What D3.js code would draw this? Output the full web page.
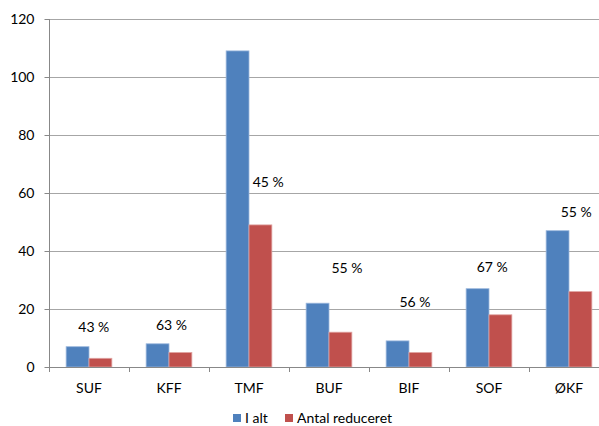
<!DOCTYPE html>
<html><head><meta charset="utf-8">
<script src="https://cdn.jsdelivr.net/npm/d3@7"></script>
<style>body{margin:0;background:#fff}svg{display:block}text{font-family:Lato,"Open Sans",sans-serif;fill:#000}</style>
</head><body>
<svg id="c" width="599" height="426"></svg>
<script>
const categories = ["SUF","KFF","TMF","BUF","BIF","SOF","ØKF"];
const iAlt = [7,8,109,22,9,27,47];
const antalReduceret = [3,5,49,12,5,18,26];
const pctLabels = ["43 %","63 %","45 %","55 %","56 %","67 %","55 %"];
const pctLabelValue = [13.8,14.5,63.8,34,22.4,34.5,53.4];
const pctLabelShift = [0.06,0.03,0.24,0.225,0.075,0.04,0.09];
const seriesNames = ["I alt","Antal reduceret"];
const yTicks = [0,20,40,60,80,100,120];
const colors = ["#4F81BD","#C0504D"];

const svg = d3.select("#c");
const x0 = 49, bandW = 80;
const x = d3.scaleBand().domain(categories).range([x0, x0 + bandW*categories.length]).paddingInner(0).paddingOuter(0);
const y = d3.scaleLinear().domain([0,120]).range([367,19]);
const xs = d3.scaleBand().domain([0,1]).range([0, x.bandwidth()]).paddingInner(0).paddingOuter(0.75);

// gridlines
svg.append("g").selectAll("line").data(yTicks.filter(d=>d>0)).join("line")
  .attr("x1",x0).attr("x2",599).attr("y1",d=>y(d)+0.5).attr("y2",d=>y(d)+0.5)
  .attr("stroke","#a6a6a6").attr("stroke-width",1);

// y axis
const yAxis = d3.axisLeft(y).tickValues(yTicks).tickSize(5).tickPadding(10);
const gy = svg.append("g").attr("transform",`translate(${x0+0.5},0)`).call(yAxis);
gy.select(".domain").attr("stroke","#888").attr("d",`M0,${y(120)}V${y(0)}`);
gy.selectAll(".tick line").attr("stroke","#888");
gy.selectAll(".tick text").style("font-size","14px").style("font-family","Lato,'Open Sans',sans-serif").attr("fill","#000");

// bars
const data = categories.map((c,i)=>({c, v:[iAlt[i], antalReduceret[i]]}));
const gb = svg.append("g");
data.forEach(d=>{
  d.v.forEach((v,j)=>{
    gb.append("rect")
      .attr("x", x(d.c)+xs(j)).attr("width", xs.bandwidth())
      .attr("y", y(v)).attr("height", y(0)-y(v))
      .attr("fill", colors[j])
      .attr("stroke", j===0? "#9bb7dd":"#e0a3a1").attr("stroke-width",0.8);
  });
});

// x axis
const xAxis = d3.axisBottom(x).tickSize(0).tickPadding(16);
const gx = svg.append("g").attr("transform",`translate(0,${y(0)+0.5})`).call(xAxis);
gx.select(".domain").attr("stroke","#888").attr("d",`M${x0},0H599`);
gx.selectAll(".tick text").style("font-size","14px").style("font-family","Lato,'Open Sans',sans-serif").attr("fill","#000");
svg.append("g").selectAll("line").data(categories.map(c=>x(c)).concat([x0+bandW*categories.length]))
  .join("line").attr("x1",d=>d+0.5).attr("x2",d=>d+0.5).attr("y1",y(0)).attr("y2",y(0)+5).attr("stroke","#888");

// percentage labels
svg.append("g").selectAll("text").data(categories).join("text")
  .attr("x",(c,i)=>x(c)+x.bandwidth()/2 + pctLabelShift[i]*bandW)
  .attr("y",(c,i)=>y(pctLabelValue[i]))
  .attr("dy","0.35em").attr("text-anchor","middle").style("font-size","14px")
  .text((c,i)=>pctLabels[i]);

// legend
const lg = svg.append("g");
const legX = [233, 285];
seriesNames.forEach((n,i)=>{
  lg.append("rect").attr("x",legX[i]).attr("y",414).attr("width",8).attr("height",8).attr("fill",colors[i]);
  lg.append("text").attr("x",legX[i]+12).attr("y",418).attr("dy","0.35em").style("font-size","14px").text(n);
});
</script>
</body></html>
